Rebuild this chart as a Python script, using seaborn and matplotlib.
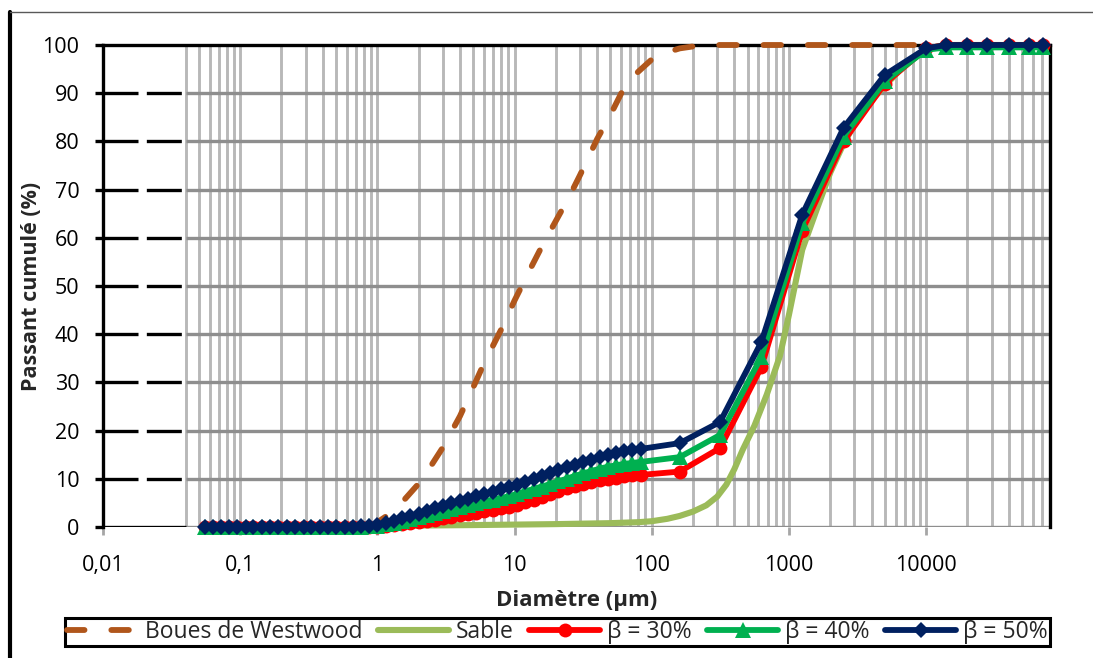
import matplotlib
matplotlib.use("Agg")
import matplotlib.pyplot as plt
from matplotlib.lines import Line2D
from matplotlib.ticker import FixedLocator, FixedFormatter, NullLocator
import pandas as pd
import seaborn as sns

# ---------------------------------------------------------------------------
# Grain-size data (diameter in µm, cumulative passing in %)
# ---------------------------------------------------------------------------
# Fine fraction (laser diffraction classes) followed by sieve sizes
size_fine = [0.055, 0.063, 0.072, 0.083, 0.095, 0.11, 0.125, 0.145, 0.165, 0.19,
             0.22, 0.25, 0.29, 0.33, 0.38, 0.44, 0.50, 0.58, 0.66, 0.76, 0.87,
             1.0, 1.15, 1.32, 1.51, 1.74, 2.0, 2.29, 2.63, 3.02, 3.47, 3.98,
             4.57, 5.25, 6.03, 6.92, 7.94, 9.12, 10.5, 12.0, 13.8, 15.8,
             18.2, 20.9, 24.0, 27.5, 31.6, 36.3, 41.7, 47.9, 55.0, 63.1,
             72.4, 83.2]
size_sieve = [160, 315, 630, 1250, 2500, 5000, 10000, 14000, 20000, 28000,
              40000, 56000, 71000]
diametre = size_fine + size_sieve

beta_30 = [0, 0, 0, 0, 0, 0, 0, 0, 0, 0, 0, 0, 0, 0, 0, 0, 0.01, 0.02, 0.03, 0.05, 0.08,
           0.1, 0.25, 0.4, 0.6, 0.8, 1.0, 1.3, 1.5, 1.8, 2.1, 2.4,
           2.7, 3.0, 3.3, 3.6, 3.9, 4.2, 4.6, 5.1, 5.6, 6.2,
           6.8, 7.4, 8.0, 8.5, 9.0, 9.4, 9.7, 10.0, 10.2, 10.5,
           10.7, 10.8,
           11.5, 16.4, 33.2, 61.5, 80.0, 92.0, 99.3, 100, 100, 100, 100, 100, 100]

beta_40 = [0, 0, 0, 0, 0, 0, 0, 0, 0, 0, 0, 0, 0, 0, 0, 0, 0.01, 0.03, 0.05, 0.1, 0.2,
           0.3, 0.6, 0.9, 1.3, 1.7, 2.1, 2.5, 2.9, 3.3, 3.7, 4.1,
           4.5, 4.9, 5.3, 5.7, 6.0, 6.4, 6.9, 7.4, 7.9, 8.4,
           8.9, 9.5, 10.0, 10.6, 11.1, 11.6, 12.1, 12.5, 12.8, 13.1,
           13.3, 13.5,
           14.5, 19.1, 35.3, 63.0, 81.0, 92.5, 99.0, 99.5, 99.5, 99.5, 99.5, 99.5, 99.5]

beta_50 = [0, 0, 0, 0, 0, 0, 0, 0, 0, 0, 0, 0, 0, 0, 0, 0, 0.02, 0.05, 0.1, 0.2, 0.3,
           0.5, 0.9, 1.3, 1.8, 2.3, 2.8, 3.3, 3.9, 4.4, 4.9, 5.4,
           5.9, 6.4, 6.9, 7.3, 7.8, 8.2, 8.8, 9.4, 10.0, 10.6,
           11.2, 11.8, 12.4, 12.9, 13.5, 14.0, 14.5, 14.9, 15.3, 15.7,
           16.0, 16.2,
           17.4, 21.8, 38.4, 64.8, 82.8, 93.8, 99.3, 100, 100, 100, 100, 100, 100]

# Westwood tailings
boues_d = [0.9, 1.0, 1.2, 1.5, 2, 2.5, 3, 4, 5, 6, 8, 10, 13, 16, 20, 25, 30, 35,
           40, 50, 60, 70, 80, 100, 130, 160, 200, 300, 500, 1000, 2000, 5000, 10000]
boues_p = [0, 1, 2.5, 5, 9, 13, 16.5, 23, 29, 34, 41, 47, 53.5, 58.5, 63.5, 68.5, 73, 77,
           80.5, 85.5, 90, 93, 94.5, 97, 98.5, 99.3, 99.7, 100, 100, 100, 100, 100, 100]

# Sand
sable_d = [0.055, 0.2, 0.5, 1, 2, 5, 10, 20, 50, 80, 100, 130, 160, 200, 250, 300,
           350, 400, 460, 560, 690, 860, 1000, 1250, 1600, 2000, 2500, 3150, 4000,
           5000, 6300, 8000, 10000, 12500, 16000, 71000]
sable_p = [0, 0, 0.05, 0.2, 0.3, 0.4, 0.5, 0.6, 0.8, 1.0, 1.2, 1.7, 2.3, 3.2, 4.5, 6.3,
           8.8, 12.0, 16.0, 21.0, 27.5, 35.5, 44.0, 57.5, 66.0, 73.5, 79.5, 84.5, 88.5,
           91.5, 94.5, 97.0, 99.0, 99.8, 100, 100]

x_ticks = [0.01, 0.1, 1, 10, 100, 1000, 10000]
x_tick_labels = ["0,01", "0,1", "1", "10", "100", "1000", "10000"]
y_ticks = [0, 10, 20, 30, 40, 50, 60, 70, 80, 90, 100]

X_MIN, X_MAX = 0.01, 80000
GRID_START = 0.04

# ---------------------------------------------------------------------------
sns.set_style("white")
plt.rcParams["font.family"] = ["Open Sans", "DejaVu Sans"]

W, H = 1093, 658
fig = plt.figure(figsize=(W / 100, H / 100), dpi=100)
ax = fig.add_axes([103 / W, 1 - 527 / H, (1050 - 103) / W, (527 - 45) / H])
ax.set_xscale("log")
ax.set_xlim(X_MIN, X_MAX)
ax.set_ylim(0, 100)

# Vertical grid (1..9 x 10^n) from 0.04 µm onwards
minor_pos = [m * 10.0 ** e for e in range(-2, 5) for m in range(1, 10)]
minor_pos = [v for v in minor_pos if GRID_START * 0.999 <= v <= X_MAX * 1.001]
ax.vlines(minor_pos, 0, 100, colors="#B8B8B8", lw=2.1, zorder=1)

# Horizontal grid: black dashes near the axis, grey lines further right
for yv in y_ticks[:-1]:
    ax.hlines(yv, GRID_START, X_MAX, colors="#8E8E8E", lw=2.4, zorder=1.2)
    if yv == 0:
        ax.plot([X_MIN, GRID_START], [yv, yv], color="black", lw=2.4,
                solid_capstyle="butt", zorder=1.3)
    else:
        ax.plot([X_MIN, GRID_START], [yv, yv], color="black", lw=2.4,
                linestyle=(0, (10.5, 2.5)), dash_capstyle="butt", zorder=1.3)

# Curves
sns.lineplot(x=boues_d, y=boues_p, ax=ax, color="#B0561B", lw=4.2,
             linestyle=(0, (3.0, 4.6)), dash_capstyle="round",
             label="Boues de Westwood", clip_on=False, zorder=3)
sns.lineplot(x=sable_d, y=sable_p, ax=ax, color="#9BBB59", lw=4.4,
             label="Sable", clip_on=False, zorder=3.1)
sns.lineplot(x=diametre, y=beta_30, ax=ax, color="#FF0000", lw=4.2,
             marker="o", markersize=10, markeredgewidth=0,
             label="β = 30%", clip_on=False, zorder=3.2)
sns.lineplot(x=diametre, y=beta_40, ax=ax, color="#00B050", lw=4.2,
             marker="^", markersize=11, markeredgewidth=0,
             label="β = 40%", clip_on=False, zorder=3.3)
sns.lineplot(x=diametre, y=beta_50, ax=ax, color="#002060", lw=4.2,
             marker="D", markersize=8, markeredgewidth=0,
             label="β = 50%", clip_on=False, zorder=3.4)

# Axes frame
for side in ("left", "top", "right"):
    ax.spines[side].set_visible(True)
    ax.spines[side].set_color("black")
    ax.spines[side].set_linewidth(2.4)
    ax.spines[side].set_zorder(2.5)
ax.spines["bottom"].set_visible(False)

ax.xaxis.set_major_locator(FixedLocator(x_ticks))
ax.xaxis.set_major_formatter(FixedFormatter(x_tick_labels))
ax.xaxis.set_minor_locator(NullLocator())
ax.yaxis.set_major_locator(FixedLocator(y_ticks))
ax.yaxis.set_minor_locator(NullLocator())
ax.tick_params(axis="x", direction="out", length=6, width=2, color="#A6A6A6",
               labelsize=15.5, labelcolor="black", pad=14, bottom=True)
ax.tick_params(axis="y", direction="out", length=6, width=2.4, color="black",
               labelsize=15.5, labelcolor="black", pad=11, left=True)
ax.xaxis.get_major_ticks()[0].tick1line.set_color("black")
ax.grid(False)

ax.set_xlabel("Diamètre (µm)", fontsize=16, fontweight="bold")
ax.xaxis.set_label_coords(0.5, -0.131)
ax.set_ylabel("Passant cumulé (%)", fontsize=15.5, fontweight="bold")
ax.yaxis.set_label_coords(-0.064, 0.5)

# Legend in a single framed row under the plot
handles, labels = ax.get_legend_handles_labels()
if ax.get_legend() is not None:
    ax.get_legend().remove()
leg = fig.legend(handles, labels, loc="center",
                 bbox_to_anchor=(65 / W, 1 - 649 / H, (1050 - 65) / W, 34 / H),
                 mode="expand", ncol=5, fontsize=16.5, frameon=True, fancybox=False,
                 edgecolor="black", framealpha=1, handlelength=3.1,
                 handletextpad=0.3, columnspacing=0.15, borderpad=0.1,
                 borderaxespad=0)
leg.get_frame().set_linewidth(2.2)

# Outer chart-area border (left and top)
fig.add_artist(Line2D([10 / W, 10 / W], [0, 1 - 12 / H], color="black", lw=3))
fig.add_artist(Line2D([10 / W, 1], [1 - 12 / H, 1 - 12 / H], color="#595959", lw=1))

fig.savefig("out.png", dpi=100)
